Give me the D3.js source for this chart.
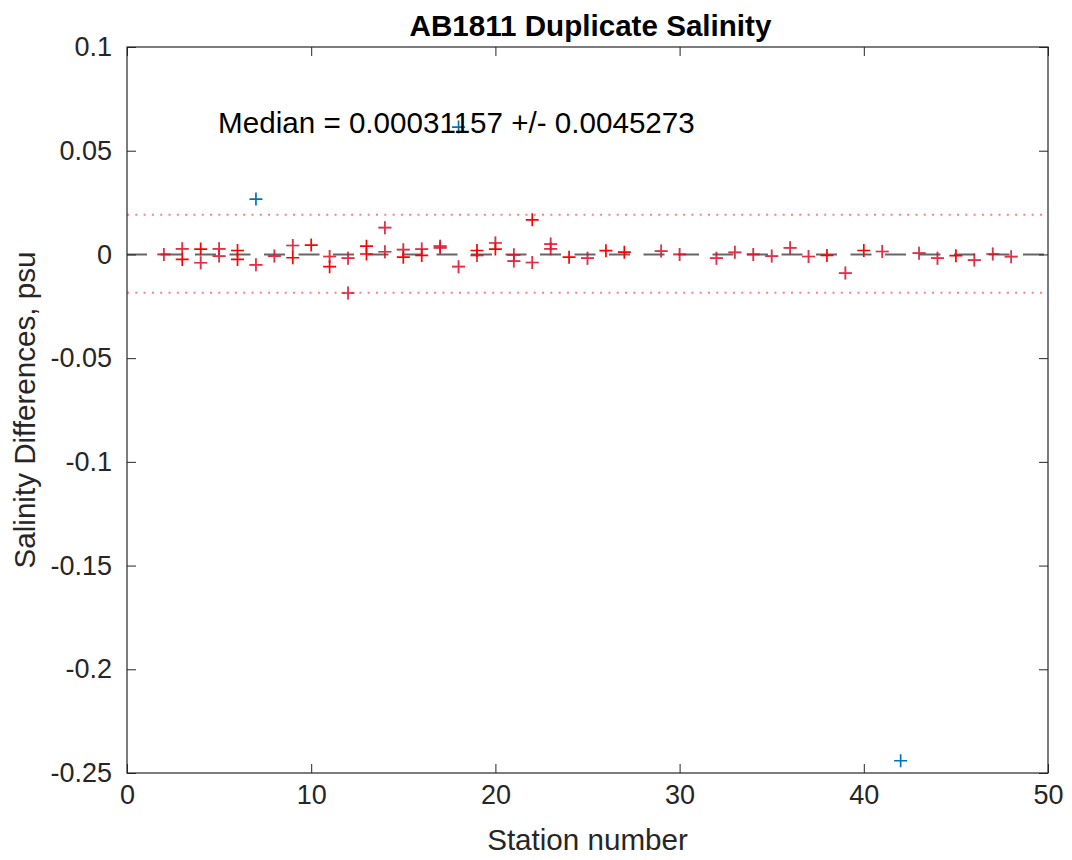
<!DOCTYPE html>
<html>
<head>
<meta charset="utf-8">
<script src="https://cdn.jsdelivr.net/npm/d3@7"></script>
<style>
  body { margin: 0; background: #ffffff; }
  text { font-family: "Liberation Sans", Arial, sans-serif; }
</style>
</head>
<body>
<div id="vis"></div>
<script>
// constants for the frame
const FRAME_WIDTH = 1072;
const FRAME_HEIGHT = 860;
const MARGINS = {left: 127, right: 24, top: 47, bottom: 87};
const VIS_WIDTH = FRAME_WIDTH - (MARGINS.left + MARGINS.right);
const VIS_HEIGHT = FRAME_HEIGHT - (MARGINS.top + MARGINS.bottom);

// duplicate differences (psu), bright red markers
const RED_STATIONS = [3, 4, 6, 6, 9, 10, 11, 13, 13, 15, 16, 19, 20, 22, 24, 26, 27, 38, 40, 45];
const RED_DIFFS = [-0.0024, 0.0026, 0.0019, -0.0024, -0.0016, 0.0045, -0.0059, 0.0040, 0.0002,
  -0.0013, -0.0005, 0.0019, 0.0026, 0.0167, -0.0013, 0.0018, 0.0011, -0.0005, 0.0019, -0.0006];

// duplicate differences (psu), markers overlapping a darker one
const DARK_STATIONS = [2, 3, 4, 5, 5, 7, 8, 9, 11, 12, 12, 14, 14, 15, 16, 17, 17, 18, 19, 20,
  21, 21, 22, 23, 23, 25, 29, 30, 32, 33, 34, 35, 36, 37, 39, 41, 43, 44, 46, 47, 48];
const DARK_DIFFS = [0.0000, 0.0027, -0.0040, 0.0027, -0.0008, -0.0050, -0.0008, 0.0043, -0.0010,
  -0.0018, -0.0186, 0.0129, 0.0013, 0.0023, 0.0026, 0.0040, 0.0032, -0.0059, -0.0005, 0.0055,
  -0.0002, -0.0032, -0.0039, 0.0050, 0.0027, -0.0018, 0.0016, 0.0000, -0.0018, 0.0010, 0.0000,
  -0.0008, 0.0032, -0.0010, -0.0090, 0.0014, 0.0006, -0.0018, -0.0027, 0.0002, -0.0011];

// outliers (blue)
const OUT_STATIONS = [7, 18, 42];
const OUT_DIFFS = [0.0267, 0.0614, -0.2441];

// limits and ticks
const UPPER_LIMIT = 0.0191;
const LOWER_LIMIT = -0.0185;
const X_TICKS = [0, 10, 20, 30, 40, 50];
const Y_TICKS = [0.1, 0.05, 0, -0.05, -0.1, -0.15, -0.2, -0.25];
const Y_TICK_LABELS = ["0.1", "0.05", "0", "-0.05", "-0.1", "-0.15", "-0.2", "-0.25"];
const MEDIAN_TEXT = "Median = 0.00031157 +/- 0.0045273";

const FRAME = d3.select("#vis")
  .append("svg")
  .attr("width", FRAME_WIDTH)
  .attr("height", FRAME_HEIGHT);

const X_SCALE = d3.scaleLinear().domain([0, 50]).range([0, VIS_WIDTH]);
const Y_SCALE = d3.scaleLinear().domain([-0.25, 0.1]).range([VIS_HEIGHT, 0]);

const PLOT = FRAME.append("g")
  .attr("transform", "translate(" + MARGINS.left + "," + MARGINS.top + ")");

// zero line (dashed)
PLOT.append("line")
  .attr("x1", X_SCALE(0)).attr("x2", X_SCALE(50))
  .attr("y1", Y_SCALE(0)).attr("y2", Y_SCALE(0))
  .attr("stroke", "#000").attr("stroke-opacity", 0.6)
  .attr("stroke-width", 2)
  .attr("stroke-dasharray", "21,13.5")
  .attr("stroke-dashoffset", 1);

// limit lines (dotted)
[UPPER_LIMIT, LOWER_LIMIT].forEach((v) => {
  PLOT.append("line")
    .attr("x1", X_SCALE(0)).attr("x2", X_SCALE(50))
    .attr("y1", Y_SCALE(v)).attr("y2", Y_SCALE(v))
    .attr("stroke", "#ff0000").attr("stroke-opacity", 0.5)
    .attr("stroke-width", 2)
    .attr("stroke-dasharray", "2,6.3");
});

// draw a "+" marker
function addPlus(g, xs, ys, color, opacity) {
  const S = 6.5;
  const pts = xs.map((x, i) => [X_SCALE(x), Y_SCALE(ys[i])]);
  g.selectAll(null)
    .data(pts)
    .enter()
    .append("path")
    .attr("d", (d) => "M" + (d[0] - S) + "," + d[1] + "H" + (d[0] + S) +
      "M" + d[0] + "," + (d[1] - S) + "V" + (d[1] + S))
    .attr("stroke", color)
    .attr("stroke-opacity", opacity)
    .attr("stroke-width", 1.7)
    .attr("fill", "none");
}

addPlus(PLOT, DARK_STATIONS, DARK_DIFFS, "#400010", 0.35);
addPlus(PLOT, DARK_STATIONS, DARK_DIFFS, "#f0102a", 0.8);
addPlus(PLOT, RED_STATIONS, RED_DIFFS, "#ff0000", 1);
addPlus(PLOT, OUT_STATIONS, OUT_DIFFS, "#0072bd", 1);

// median text
PLOT.append("text")
  .attr("x", X_SCALE(5) - 1)
  .attr("y", Y_SCALE(0.0636))
  .attr("dominant-baseline", "central")
  .attr("font-size", "29.6px")
  .attr("fill", "#000")
  .text(MEDIAN_TEXT);

// box
PLOT.append("rect")
  .attr("x", 0).attr("y", 0)
  .attr("width", VIS_WIDTH).attr("height", VIS_HEIGHT)
  .attr("fill", "none").attr("stroke", "#262626").attr("stroke-width", 1.2);

// x axis ticks (bottom and top, inward)
const X_AXIS = PLOT.append("g")
  .attr("transform", "translate(0," + VIS_HEIGHT + ")")
  .call(d3.axisBottom(X_SCALE).tickValues(X_TICKS).tickSizeInner(-9).tickSizeOuter(0).tickPadding(12));
X_AXIS.select(".domain").remove();
X_AXIS.selectAll("text").attr("font-size", "27px").attr("fill", "#262626")
  .attr("font-family", "Liberation Sans, Arial, sans-serif");
X_AXIS.selectAll("line").attr("stroke", "#262626");

PLOT.append("g")
  .call(d3.axisTop(X_SCALE).tickValues(X_TICKS).tickSizeInner(-9).tickSizeOuter(0).tickFormat(""))
  .call((g) => g.select(".domain").remove())
  .selectAll("line").attr("stroke", "#262626");

// y axis ticks (left and right, inward)
const Y_AXIS = PLOT.append("g")
  .call(d3.axisLeft(Y_SCALE).tickValues(Y_TICKS).tickSizeInner(-9).tickSizeOuter(0).tickPadding(15)
    .tickFormat((d, i) => Y_TICK_LABELS[i]));
Y_AXIS.select(".domain").remove();
Y_AXIS.selectAll("text").attr("font-size", "27px").attr("fill", "#262626")
  .attr("font-family", "Liberation Sans, Arial, sans-serif");
Y_AXIS.selectAll("line").attr("stroke", "#262626");

PLOT.append("g")
  .attr("transform", "translate(" + VIS_WIDTH + ",0)")
  .call(d3.axisRight(Y_SCALE).tickValues(Y_TICKS).tickSizeInner(-9).tickSizeOuter(0).tickFormat(""))
  .call((g) => g.select(".domain").remove())
  .selectAll("line").attr("stroke", "#262626");

// title
FRAME.append("text")
  .attr("x", MARGINS.left + VIS_WIDTH / 2 + 3)
  .attr("y", 36)
  .attr("text-anchor", "middle")
  .attr("font-size", "29.6px")
  .attr("font-weight", "bold")
  .attr("fill", "#000")
  .text("AB1811 Duplicate Salinity");

// x label
FRAME.append("text")
  .attr("x", MARGINS.left + VIS_WIDTH / 2)
  .attr("y", 850)
  .attr("text-anchor", "middle")
  .attr("font-size", "29.6px")
  .attr("fill", "#262626")
  .text("Station number");

// y label
FRAME.append("text")
  .attr("transform", "translate(35," + (MARGINS.top + VIS_HEIGHT / 2) + ") rotate(-90)")
  .attr("text-anchor", "middle")
  .attr("font-size", "29.6px")
  .attr("fill", "#262626")
  .text("Salinity Differences, psu");
</script>
</body>
</html>
